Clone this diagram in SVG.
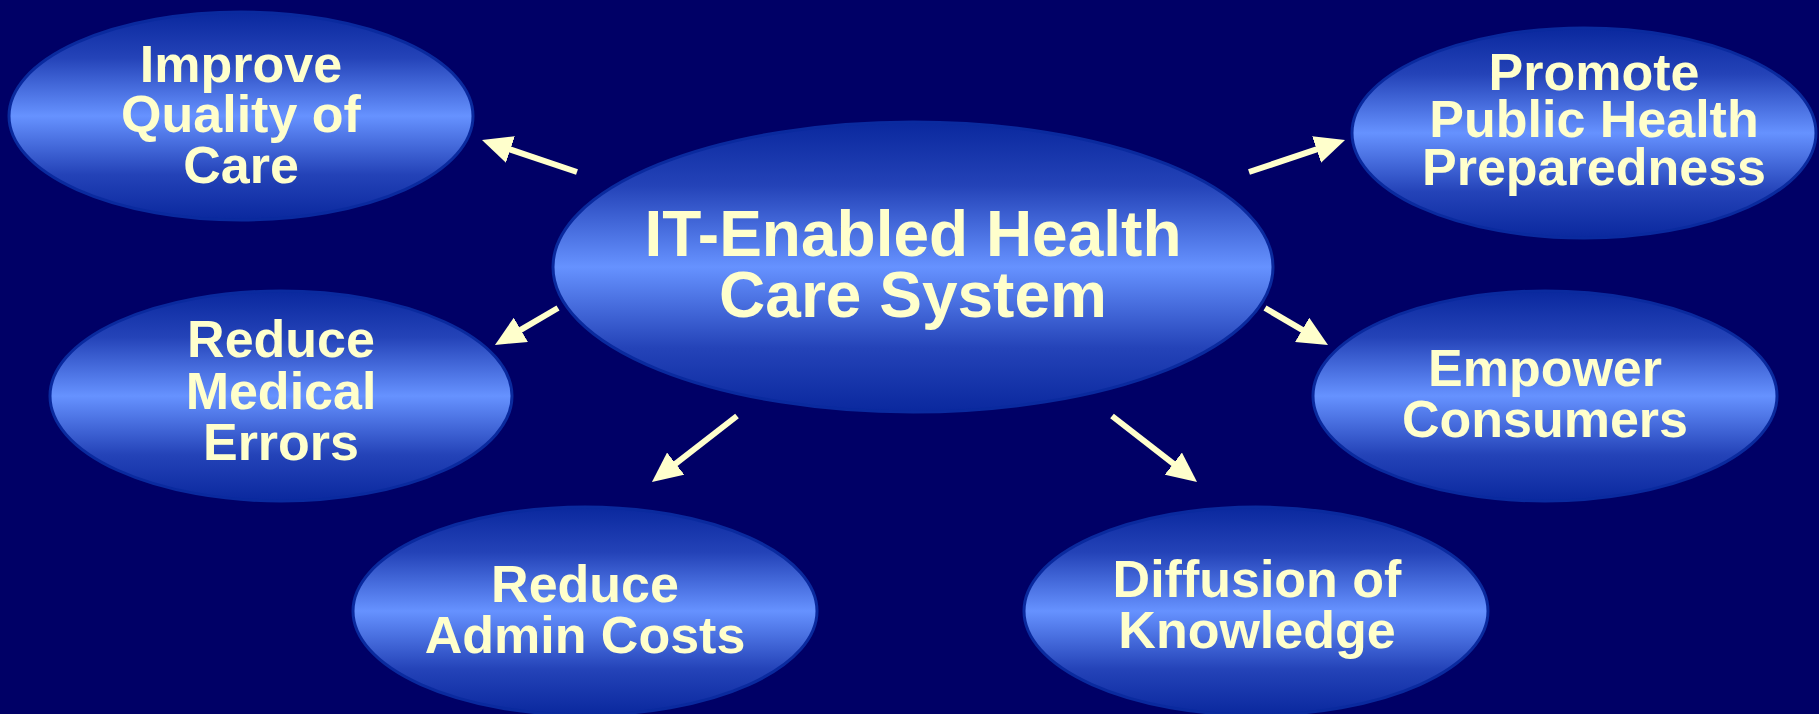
<svg xmlns="http://www.w3.org/2000/svg" width="1819" height="714" viewBox="0 0 1819 714">
<style>
.node ellipse{fill:url(#g);stroke:#0A2A9E;stroke-width:3}
.node text{font-family:"Liberation Sans",Arial,sans-serif;font-weight:bold;font-size:52px;fill:#FFFFCC;text-anchor:middle}
#center text{font-size:64px}
#connectors line{stroke:#FFFFCC;stroke-width:6;marker-end:url(#ah)}
</style>
<defs>
<linearGradient id="g" x1="0" y1="0" x2="0" y2="1">
<stop offset="0" stop-color="#0A289E"/>
<stop offset="0.22" stop-color="#2443B8"/>
<stop offset="0.5" stop-color="#6692FF"/>
<stop offset="0.78" stop-color="#2443B8"/>
<stop offset="1" stop-color="#0A289E"/>
</linearGradient>
<marker id="ah" markerUnits="userSpaceOnUse" viewBox="0 0 30 28" markerWidth="30" markerHeight="28" refX="15" refY="14" orient="auto">
<path d="M0,0 L30,14 L0,28 Z" fill="#FFFFCC"/>
</marker>
</defs>
<rect width="1819" height="714" fill="#000066"/>
<g id="connectors">
<line x1="577" y1="172" x2="496.2" y2="144.8"/>
<line x1="1249" y1="172" x2="1330.8" y2="144.7"/>
<line x1="558" y1="308" x2="507.9" y2="337.4"/>
<line x1="737" y1="416" x2="663.8" y2="472.8"/>
<line x1="1265" y1="308" x2="1315.1" y2="337.4"/>
<line x1="1112" y1="416" x2="1185.2" y2="472.8"/>
</g>
<g id="improve" class="node">
<ellipse cx="241" cy="116" rx="232" ry="104"/>
<text x="241" y="82">Improve</text>
<text x="241" y="132">Quality of</text>
<text x="241" y="183">Care</text>
</g>
<g id="center" class="node">
<ellipse cx="913" cy="267" rx="360" ry="145"/>
<text x="913" y="256">IT-Enabled Health</text>
<text x="913" y="317">Care System</text>
</g>
<g id="promote" class="node">
<ellipse cx="1584" cy="133" rx="232" ry="105"/>
<text x="1594" y="90">Promote</text>
<text x="1594" y="137">Public Health</text>
<text x="1594" y="185">Preparedness</text>
</g>
<g id="errors" class="node">
<ellipse cx="281" cy="396" rx="231" ry="105"/>
<text x="281" y="357">Reduce</text>
<text x="281" y="409">Medical</text>
<text x="281" y="460">Errors</text>
</g>
<g id="empower" class="node">
<ellipse cx="1545" cy="396" rx="232" ry="105"/>
<text x="1545" y="386">Empower</text>
<text x="1545" y="437">Consumers</text>
</g>
<g id="admin" class="node">
<ellipse cx="585" cy="611" rx="232" ry="104"/>
<text x="585" y="602">Reduce</text>
<text x="585" y="653">Admin Costs</text>
</g>
<g id="diffusion" class="node">
<ellipse cx="1256" cy="611" rx="232" ry="104"/>
<text x="1257" y="597">Diffusion of</text>
<text x="1257" y="648">Knowledge</text>
</g>
</svg>
